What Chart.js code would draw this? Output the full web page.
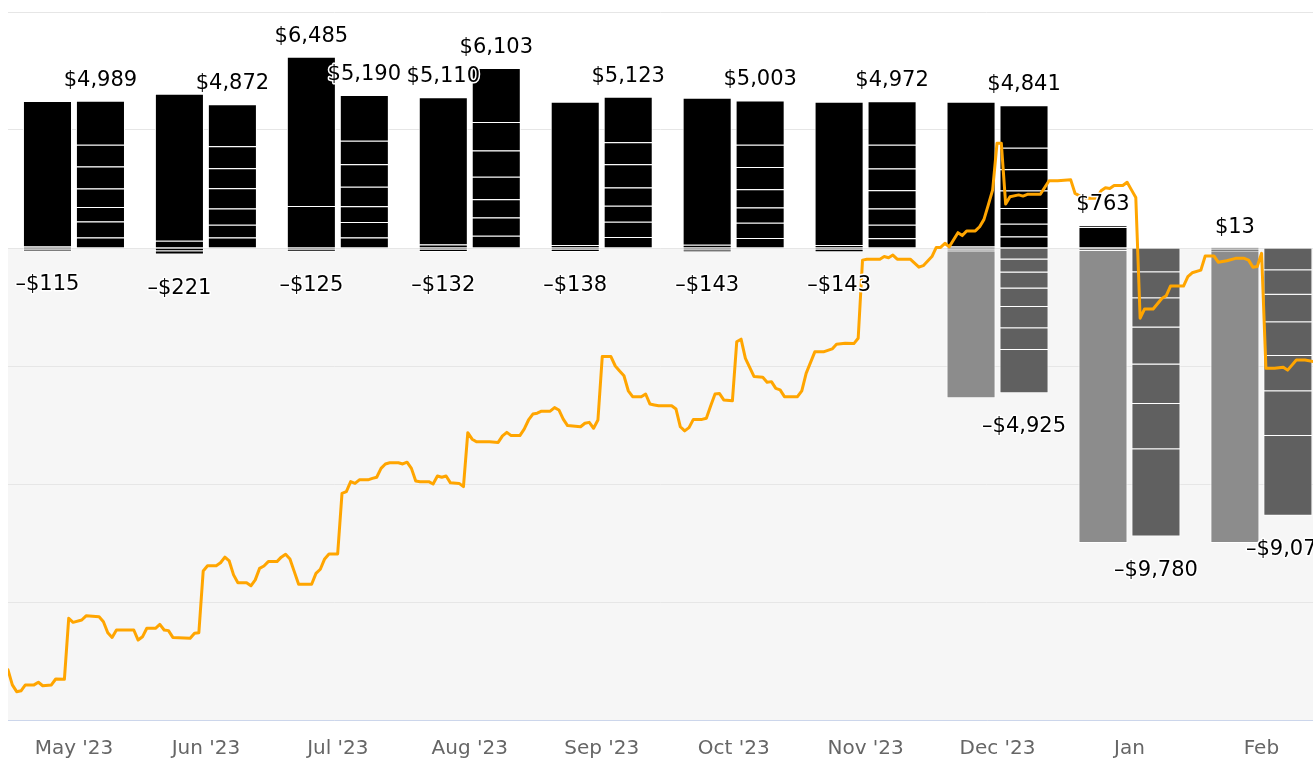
<!DOCTYPE html>
<html>
<head>
<meta charset="utf-8">
<script src="https://cdn.jsdelivr.net/npm/chart.js@4.4.1/dist/chart.umd.min.js"></script>
<style>
  html, body { margin: 0; padding: 0; background: #ffffff; overflow: hidden; }
  #wrap { position: relative; width: 1313px; height: 761px; }
</style>
</head>
<body>
<div id="wrap"><canvas id="c"></canvas></div>
<script>
// ---------- data ----------
const months = ["May '23", "Jun '23", "Jul '23", "Aug '23", "Sep '23", "Oct '23", "Nov '23", "Dec '23", "Jan", "Feb"];

// left column of each month
const leftBase   = [60, 250, 1420, 120, 100, 110, 100, 60, 710, 5];
const leftMain   = [4925, 4980, 5065, 4990, 4860, 4980, 4860, 4900, 53, 8];
const leftNeg1   = [-60, -110, -65, -70, -70, -75, -70, -50, -40, -60];
const leftNeg2   = [-55, -111, -60, -62, -68, -68, -73, -60, -50, -50];
const leftNegBig = [null, null, null, null, null, null, null, -4980, -9910, -9890];

// right column of each month, positive parts (bottom to top)
const rightPos1 = [353, 354, 352, 414, 376, 343, 333, 392, null, null];
const rightPos2 = [548, 437, 527, 620, 512, 514, 456, 429, null, null];
const rightPos3 = [493, 550, 534, 620, 546, 514, 548, 531, null, null];
const rightPos4 = [626, 688, 664, 759, 615, 617, 617, 599, null, null];
const rightPos5 = [744, 678, 763, 896, 786, 754, 744, 718, null, null];
const rightPos6 = [740, 743, 797, 965, 752, 754, 799, 728, null, null];
const rightPos7 = [1485, 1422, 1553, 1829, 1536, 1507, 1475, 1444, null, null];

// right column, negative parts (from zero downward)
const rightNeg1 = [null, null, null, null, null, null, null, -386, -818, -753];
const rightNeg2 = [null, null, null, null, null, null, null, -444, -886, -831];
const rightNeg3 = [null, null, null, null, null, null, null, -546, -988, -937];
const rightNeg4 = [null, null, null, null, null, null, null, -628, -1261, -1139];
const rightNeg5 = [null, null, null, null, null, null, null, -717, -1339, -1197];
const rightNeg6 = [null, null, null, null, null, null, null, -737, -1533, -1515];
const rightNeg7 = [null, null, null, null, null, null, null, -1467, -2955, -2702];

// which stack totals are printed in the picture
const showLeftTotal  = [false, false, true, true, false, false, false, false, true, true];
const showRightTotal = [true, true, true, true, true, true, true, true, false, false];
const showLeftNeg    = [true, true, true, true, true, true, true, false, false, false];
const showRightNeg   = [false, false, false, false, false, false, false, true, true, true];

// running line: day offset from the left edge of the period, value
const lineDay = [0,1,2,3,4,6,7,8,10,11,
  13,14,15,17,18,21,22,23,24,25,
  29,30,31,32,34,35,36,37,38,42,
  43,44,45,46,48,49,50,51,52,53,
  55,56,57,58,59,60,62,63,64,65,
  66,67,70,71,72,73,74,76,77,78,
  79,80,81,83,84,85,86,87,88,90,
  91,92,93,94,95,97,98,99,100,101,
  102,104,105,106,107,108,111,113,114,115,
  116,118,119,120,121,122,123,125,126,127,
  128,129,132,133,134,135,136,137,139,140,
  141,142,143,144,146,147,148,149,150,153,
  154,155,156,157,158,160,161,162,163,164,
  165,167,168,169,170,172,174,175,176,177,
  178,179,182,183,184,186,188,190,191,193,
  195,196,197,198,201,202,203,204,205,208,
  210,211,213,214,215,216,217,219,220,221,
  223,224,225,226,227,228,229,230,231,233,
  234,235,238,240,242,245,246,248,251,252,
  253,254,255,257,258,259,260,261,262,264,
  266,267,268,271,272,273,275,276,278,279,
  281,283,285,286,287,288,289,290,292,294,
  295,296,297,299,301,302];
const lineValue = [-14300,-14810,-15040,-15010,-14810,-14810,-14720,-14840,-14810,-14610,
  -14620,-12550,-12690,-12610,-12470,-12500,-12670,-13040,-13200,-12950,
  -12950,-13290,-13180,-12890,-12890,-12760,-12950,-12970,-13200,-13230,
  -13060,-13040,-10950,-10770,-10770,-10670,-10480,-10610,-11080,-11350,
  -11350,-11450,-11250,-10860,-10780,-10630,-10630,-10480,-10380,-10540,
  -10970,-11400,-11400,-11030,-10890,-10540,-10370,-10370,-8320,-8260,
  -7920,-7980,-7860,-7860,-7810,-7770,-7470,-7320,-7280,-7280,
  -7320,-7260,-7470,-7900,-7920,-7920,-8000,-7730,-7770,-7730,
  -7960,-7980,-8090,-6260,-6480,-6570,-6570,-6590,-6370,-6250,
  -6360,-6360,-6140,-5830,-5630,-5600,-5530,-5530,-5410,-5490,
  -5800,-6020,-6060,-5940,-5910,-6110,-5830,-3680,-3680,-4000,
  -4170,-4330,-4840,-5040,-5040,-4950,-5290,-5320,-5350,-5350,
  -5460,-6060,-6200,-6090,-5810,-5810,-5770,-5350,-4950,-4930,
  -5150,-5180,-3180,-3090,-3740,-4360,-4380,-4550,-4530,-4760,
  -4810,-5040,-5040,-4840,-4250,-3520,-3520,-3420,-3260,-3230,
  -3240,-3060,-410,-380,-380,-290,-330,-240,-380,-380,
  -650,-600,-290,20,20,160,40,520,420,580,
  580,720,970,1460,1970,3550,3550,1490,1740,1800,
  1760,1820,1820,2280,2280,2310,1850,1690,1690,1940,
  2040,2020,2120,2120,2230,1970,1710,-2380,-2070,-2070,
  -1710,-1620,-1290,-1290,-970,-840,-750,-270,-270,-480,
  -430,-350,-350,-410,-650,-630,-180,-4080,-4080,-4040,
  -4140,-3970,-3800,-3800,-3850,-3860];

// axis range
const yMin = -16000, yMax = 8000, yStep = 4000;
const xMin = -0.5, xMax = 9.391;

// ---------- build ----------
const BLACK = '#000000', LGRAY = '#8c8c8c', DGRAY = '#606060';
const toXY = arr => arr.map((v, i) => ({ x: i, y: v }));
function barSet(arr, stack, color) {
  return {
    type: 'bar', stack: stack, data: toXY(arr),
    backgroundColor: color, borderColor: '#ffffff', borderWidth: 1, borderSkipped: 'start',
    categoryPercentage: 0.803, barPercentage: 0.926, order: 1, xAxisID: 'x', yAxisID: 'y'
  };
}
const datasets = [
  barSet(leftBase, 'L', BLACK), barSet(leftMain, 'L', BLACK),
  barSet(leftNeg1, 'L', BLACK), barSet(leftNeg2, 'L', BLACK), barSet(leftNegBig, 'L', LGRAY),
  barSet(rightPos1, 'R', BLACK), barSet(rightPos2, 'R', BLACK), barSet(rightPos3, 'R', BLACK),
  barSet(rightPos4, 'R', BLACK), barSet(rightPos5, 'R', BLACK), barSet(rightPos6, 'R', BLACK),
  barSet(rightPos7, 'R', BLACK),
  barSet(rightNeg1, 'R', DGRAY), barSet(rightNeg2, 'R', DGRAY), barSet(rightNeg3, 'R', DGRAY),
  barSet(rightNeg4, 'R', DGRAY), barSet(rightNeg5, 'R', DGRAY), barSet(rightNeg6, 'R', DGRAY),
  barSet(rightNeg7, 'R', DGRAY),
  {
    type: 'line', data: lineDay.map((d, i) => ({ x: d * 12 / 365 - 0.5, y: lineValue[i] })),
    borderColor: '#ffa500', borderWidth: 3, pointRadius: 0, tension: 0,
    borderJoinStyle: 'round', borderCapStyle: 'round', fill: false, order: 0,
    xAxisID: 'x', yAxisID: 'y2'
  }
];

const bandPlugin = {
  id: 'band',
  beforeDraw(chart) {
    const { ctx, chartArea: a, scales: { y } } = chart;
    const z = y.getPixelForValue(0);
    ctx.save();
    ctx.fillStyle = '#f6f6f6';
    ctx.fillRect(a.left, z, a.right - a.left, a.bottom - z);
    ctx.restore();
  }
};

function fmt(v) {
  const s = '$' + Math.abs(v).toLocaleString('en-US');
  return v < 0 ? '\u2013' + s : s;
}

const totalsPlugin = {
  id: 'totals',
  afterDatasetsDraw(chart) {
    const ctx = chart.ctx, ys = chart.scales.y;
    ctx.save();
    ctx.font = '21px "DejaVu Sans"';
    ctx.textAlign = 'center';
    ctx.textBaseline = 'alphabetic';
    ctx.lineJoin = 'round';
    ctx.strokeStyle = '#ffffff';
    ctx.lineWidth = 3;
    ctx.fillStyle = '#000000';
    const groups = [
      { key: 'L', showPos: showLeftTotal, showNeg: showLeftNeg },
      { key: 'R', showPos: showRightTotal, showNeg: showRightNeg }
    ];
    groups.forEach(g => {
      const idx = chart.data.datasets.map((d, i) => d.stack === g.key ? i : -1).filter(i => i >= 0);
      months.forEach((m, i) => {
        let pos = 0, neg = 0, x = null;
        idx.forEach(di => {
          const v = chart.data.datasets[di].data[i].y;
          if (v == null) return;
          if (v >= 0) pos += v; else neg += v;
          const el = chart.getDatasetMeta(di).data[i];
          if (x === null && el && isFinite(el.x)) x = el.x;
        });
        if (x === null) return;
        if (g.showPos[i]) {
          const y = ys.getPixelForValue(pos) - 15;
          ctx.strokeText(fmt(pos), x, y);
          ctx.fillText(fmt(pos), x, y);
        }
        if (g.showNeg[i]) {
          const y = ys.getPixelForValue(neg) + 39;
          ctx.strokeText(fmt(neg), x, y);
          ctx.fillText(fmt(neg), x, y);
        }
      });
    });
    ctx.restore();
  }
};

new Chart(document.getElementById('c'), {
  data: { datasets: datasets },
  options: {
    responsive: true, maintainAspectRatio: false, animation: false,
    layout: { padding: { left: 8, right: 0, top: 12, bottom: 0 } },
    plugins: { legend: { display: false }, tooltip: { enabled: false } },
    scales: {
      x: {
        type: 'linear', min: xMin, max: xMax, offset: false,
        grid: { display: false, drawTicks: false, offset: false },
        border: { display: true, color: '#ccd6eb', width: 1 },
        ticks: {
          color: '#666666', font: { family: 'DejaVu Sans', size: 20 }, padding: 17,
          autoSkip: false, maxRotation: 0, includeBounds: false,
          callback: v => months[v]
        },
        afterBuildTicks: axis => { axis.ticks = months.map((_, i) => ({ value: i })); },
        afterFit: axis => { axis.height = 41; }
      },
      y: {
        type: 'linear', stacked: true, min: yMin, max: yMax,
        ticks: { display: false, stepSize: yStep },
        grid: { color: '#e6e6e6', lineWidth: 1, drawTicks: false },
        border: { display: false }
      },
      y2: { type: 'linear', display: false, min: yMin, max: yMax }
    }
  },
  plugins: [bandPlugin, totalsPlugin]
});
</script>
</body>
</html>
